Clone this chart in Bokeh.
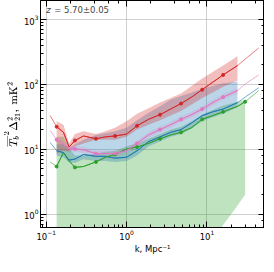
from bokeh.plotting import figure
from bokeh.models import LogAxis, Label, CustomJSTickFormatter, TeX
from bokeh.embed import file_html
from bokeh.resources import INLINE

# wavenumber grid, Mpc^-1 (index 0 and last: model extension only)
k = [0.112, 0.135, 0.164, 0.193, 0.228, 0.291, 0.416, 0.547, 0.720, 1.00, 1.35,
     1.88, 2.61, 3.53, 4.77, 6.45, 8.72, 11.8, 15.9, 24.0, 29.9, 44.0]

red = [33.0, 22.2, 18.2, 10.8, 13.6, 16.0, 14.5, 15.5, 16.0, 17.1, 23.0, 28.9,
       34.1, 41.6, 50.6, 63.7, 82.9, 107.8, 140, 195, 245, 364]
pink = [19.5, 14.0, 11.9, 10.1, 10.1, 9.77, 8.57, 8.57, 8.57, 9.46, 12.3, 16.6,
        20.1, 23.8, 28.9, 34.1, 41.6, 52.3, 63.7, 80.2, 101, 140]
blue = [12.7, 9.46, 8.85, 6.80, 7.03, 8.29, 7.76, 7.76, 7.27, 7.51, 9.46, 13.1,
        15.5, 18.2, 20.1, 25.4, 33.0, 37.7, 41.6, 52.3, 63.7, 88.5]
green = [6.37, 5.41, 8.85, 6.59, 5.24, 5.41, 6.37, 7.51, 8.29, 10.1, 10.8, 12.3,
         14.5, 16.6, 18.2, 21.5, 28.9, 33.0, 37.7, 45.8, 54.0, 80.2]

# uncertainty bands on the measured k range (k[1] .. k[19], green to k[20])
red_hi = [27.1, 23.8, 12.3, 17.1, 18.9, 17.1, 18.9, 21.5, 27.1, 35.2, 42.9, 52.3,
          61.7, 72.6, 94.6, 123, 155, 195, 271]
red_lo = [8.57, 9.46, 9.1, 11.1, 12.3, 14.0, 14.0, 14.0, 15.5, 20.1, 23.8, 28.0,
          33.0, 38.9, 49.0, 61.7, 75.1, 91.5, 115]
pink_hi = [15.5, 13.1, 11.1, 11.1, 10.8, 9.5, 9.5, 9.5, 10.4, 13.6, 18.3, 22.2,
           26.3, 31.9, 37.7, 45.9, 57.7, 70.3, 88.5]
pink_lo = [12.7, 10.8, 9.2, 9.2, 8.85, 7.76, 7.76, 7.76, 8.57, 11.1, 15.0, 18.2,
           21.5, 26.2, 30.9, 37.7, 47.4, 57.7, 72.6]
blue_hi = [11.9, 11.9, 10.4, 11.9, 14.0, 16.6, 17.7, 18.9, 21.5, 28.0, 36.4, 45.8,
           57.7, 65.9, 75.1, 85.7, 94.6, 104.4, 111]
blue_lo = [8.02, 7.51, 6.2, 6.2, 7.03, 6.59, 6.59, 6.37, 6.59, 8.02, 11.1, 13.1,
           15.5, 17.1, 20.8, 27.1, 31.0, 35.2, 44.4]
green_hi = [15.5, 15.5, 10.4, 8.02, 8.02, 8.57, 9.1, 9.46, 11.1, 12.3, 14.5, 17.1,
            20.1, 22.2, 27.1, 34.1, 40.2, 47.4, 54.0, 57.7]
green_lo = [0.01, 0.01, 0.01, 0.01, 0.01, 0.01, 0.01, 0.01, 0.01, 0.01, 0.01, 0.01,
            0.01, 0.01, 0.01, 0.01, 0.40, 0.68, 1.35, 2.01]

marker_idx = [1, 4, 6, 8, 10, 12, 14, 16, 18]
green_marker_idx = [1, 4, 6, 8, 10, 12, 14, 16, 18, 20]

C_RED, C_BLUE, C_GREEN, C_PINK = "#d62728", "#1f77b4", "#2ca02c", "#e377c2"

p = figure(width=264, height=256, x_axis_type="log", y_axis_type="log",
           x_range=(0.085, 52), y_range=(0.62, 1966),
           output_backend="svg", toolbar_location=None,
           min_border_left=0, min_border_right=0, min_border_top=0, min_border_bottom=0)
p.background_fill_color = "white"
p.outline_line_color = "black"
p.outline_line_width = 1

# bands
p.varea(x=k[1:21], y1=green_lo, y2=green_hi, fill_color=C_GREEN, fill_alpha=0.3)
p.varea(x=k[1:20], y1=blue_lo, y2=blue_hi, fill_color=C_BLUE, fill_alpha=0.3)
p.varea(x=k[1:20], y1=red_lo, y2=red_hi, fill_color=C_RED, fill_alpha=0.3)
p.varea(x=k[1:20], y1=pink_lo, y2=pink_hi, fill_color=C_PINK, fill_alpha=0.2)

# lines
for ys, c, last in ((blue, C_BLUE, 20), (green, C_GREEN, 21), (pink, C_PINK, 20), (red, C_RED, 20)):
    p.line(k, ys, line_color=c, line_width=0.6)
    p.line(k[1:last], ys[1:last], line_color=c, line_width=1.0)

for ys, c, idx in ((green, C_GREEN, green_marker_idx), (pink, C_PINK, marker_idx), (red, C_RED, marker_idx)):
    p.scatter([k[i] for i in idx], [ys[i] for i in idx], size=3, color=c)

# axes styling
def style_axis(ax):
    ax.axis_line_color = "black"
    ax.major_tick_in = 6
    ax.major_tick_out = 0
    ax.minor_tick_in = 3
    ax.minor_tick_out = 0
    ax.major_tick_line_color = "black"
    ax.minor_tick_line_color = "black"
    ax.major_label_text_font = "DejaVu Sans"
    ax.major_label_text_font_size = "8.5px"
    ax.major_label_text_color = "black"
    ax.axis_label_text_font = "DejaVu Sans"
    ax.axis_label_text_font_size = "8.5px"
    ax.axis_label_text_font_style = "normal"
    ax.axis_label_text_color = "black"

for ax in p.xaxis + p.yaxis:
    style_axis(ax)
p.xaxis.major_label_standoff = 2
p.yaxis.major_label_standoff = 2
p.xaxis.axis_label = "k, Mpc⁻¹"
p.xaxis.axis_label_standoff = 1
p.yaxis.axis_label = TeX(text=r"\overline{T_b}^2\Delta^2_{21},\ \mathrm{mK}^2")
p.yaxis.axis_label_standoff = 1

for loc in ("above", "right"):
    ax = LogAxis(formatter=CustomJSTickFormatter(code="return ''"))
    style_axis(ax)
    ax.major_label_standoff = 0
    p.add_layout(ax, loc)

p.xgrid.grid_line_color = "#b0b0b0"
p.ygrid.grid_line_color = "#b0b0b0"
p.xgrid.grid_line_alpha = 0.6
p.ygrid.grid_line_alpha = 0.6

p.add_layout(Label(x=0.1, y=1400, text="z", text_font="DejaVu Sans", text_font_size="8.5px",
                   text_font_style="italic", text_baseline="middle"))
p.add_layout(Label(x=0.1, y=1400, x_offset=8, text="= 5.70±0.05", text_font="DejaVu Sans",
                   text_font_size="8.5px", text_baseline="middle"))

open("out.html", "w").write(file_html(p, INLINE))
